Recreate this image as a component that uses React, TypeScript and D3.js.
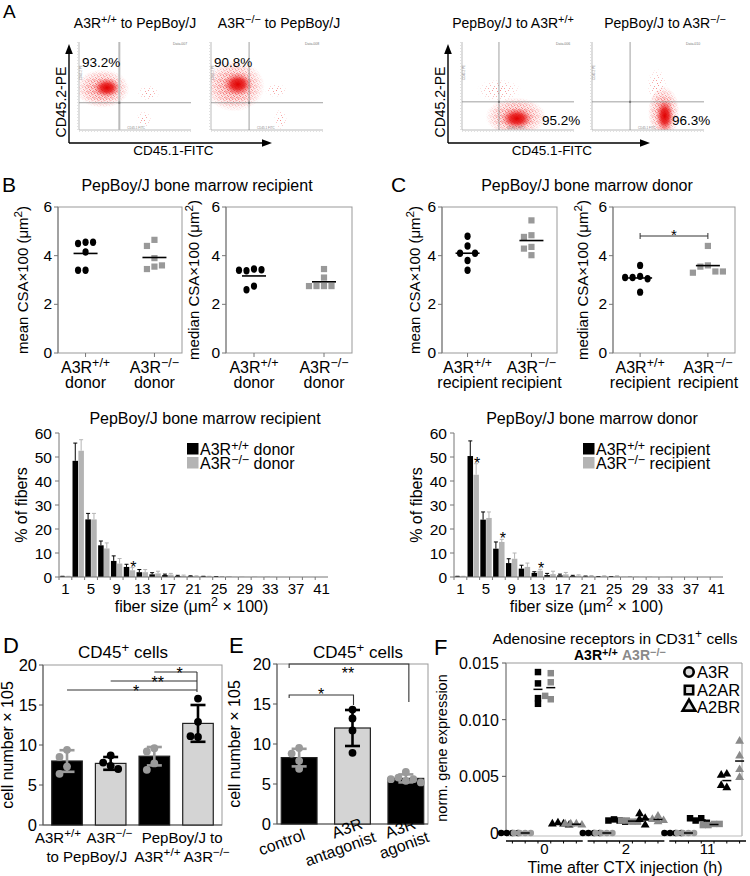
import React from 'react';
import * as d3 from 'd3';

const FF = "'Liberation Sans', Arial, Helvetica, sans-serif";
const GR = '#9a9a9a';

// ================= DATA =================
// Panel A – flow cytometry
const flowTitles = [
  [['A3R', false], ['+/+', true], [' to PepBoy/J', false]],
  [['A3R', false], ['−/−', true], [' to PepBoy/J', false]],
  [['PepBoy/J to A3R', false], ['+/+', true]],
  [['PepBoy/J to A3R', false], ['−/−', true]],
];
const flowPercents = ['93.2%', '90.8%', '95.2%', '96.3%'];
const flowFileTags = ['Data.007', 'Data.008', 'Data.006', 'Data.010'];
const flowGateX = [0.36, 0.34, 0.33, 0.34];
const flowGateY = [0.31, 0.31, 0.32, 0.32];
// population centres in log-fluorescence fractions: [x, y, spreadX, spreadY]
const flowCore = [[0.25, 0.48, 0.12, 0.11], [0.24, 0.52, 0.13, 0.13], [0.49, 0.13, 0.14, 0.12], [0.65, 0.16, 0.08, 0.19]];
const flowHalo = [[0.21, 0.47, 0.24, 0.22], [0.21, 0.5, 0.27, 0.29], [0.48, 0.15, 0.27, 0.22], [0.64, 0.2, 0.14, 0.3]];
const flowSparse = [
  [[0.62, 0.42, 0.1, 0.09], [0.58, 0.12, 0.07, 0.1]],
  [[0.58, 0.45, 0.1, 0.08], [0.62, 0.12, 0.06, 0.12]],
  [[0.33, 0.45, 0.2, 0.13]],
  [[0.58, 0.5, 0.09, 0.2]],
];

// Panels B / C – CSA dot plots
const bMeanWT = [4.55, 4.5, 4.55, 4.15, 3.4, 3.4];
const bMeanKO = [4.65, 4.4, 3.9, 3.55, 3.45, 3.6];
const bMedWT = [3.45, 3.38, 3.42, 3.4, 2.75, 2.6];
const bMedKO = [3.45, 3.1, 2.75, 2.75, 2.75, 2.75];
const cMeanWT = [4.8, 4.4, 4.1, 4.1, 3.8, 3.4];
const cMeanKO = [5.45, 4.84, 4.77, 4.36, 4.29, 4.02];
const cMedWT = [3.6, 3.15, 3.1, 3.05, 3.1, 2.5];
const cMedKO = [4.4, 3.6, 3.55, 3.35, 3.3, 3.35];
const csaTicks = [0, 2, 4, 6];

// Fiber size histograms
const binLabels = [1, 3, 5, 7, 9, 11, 13, 15, 17, 19, 21, 23, 25, 27, 29, 31, 33, 35, 37, 39, 41];
const hbBlk = [0.2, 48.4, 24, 13.2, 6.7, 4.2, 2, 1.1, 0.8, 0.4, 0.3, 0.2, 0.1, 0.1, 0.05, 0.05, 0.05, 0, 0, 0, 0];
const hbBlkErr = [0.1, 7.4, 2.5, 1.8, 2.1, 1.1, 1.1, 0.7, 0.4, 0.3, 0.2, 0.1, 0.1, 0.05, 0, 0, 0, 0, 0, 0, 0];
const hbGry = [0.2, 52.6, 24, 11.9, 5.6, 2.8, 2, 1.5, 1, 0.5, 0.3, 0.2, 0.1, 0.1, 0.05, 0.05, 0.05, 0, 0, 0, 0];
const hbGryErr = [0.1, 4.6, 2.5, 2.3, 2.1, 1.1, 1.1, 0.9, 0.5, 0.3, 0.2, 0.1, 0.1, 0.05, 0, 0, 0, 0, 0, 0, 0];
const hbStars = [{ bin: 5, s: 'g' }];
const hcBlk = [0.2, 50.4, 23.9, 11.8, 5.8, 3.5, 1.7, 0.8, 0.7, 0.4, 0.2, 0.1, 0.1, 0.05, 0.05, 0.05, 0, 0, 0, 0, 0];
const hcBlkErr = [0.1, 6.3, 3.2, 2.8, 1.8, 1.4, 0.5, 0.7, 0.5, 0.3, 0.2, 0.1, 0.1, 0, 0, 0, 0, 0, 0, 0, 0];
const hcGry = [0.2, 42.6, 24.6, 14.6, 7.6, 4.2, 2.6, 1.2, 1.1, 0.6, 0.4, 0.3, 0.3, 0.1, 0.1, 0.05, 0.05, 0, 0, 0, 0];
const hcGryErr = [0.1, 4.6, 2.5, 1.1, 2.4, 1.6, 0.6, 1.2, 0.8, 0.3, 0.2, 0.2, 0.2, 0.1, 0, 0, 0, 0, 0, 0, 0];
const hcStars = [{ bin: 1, s: 'g' }, { bin: 3, s: 'g' }, { bin: 6, s: 'g' }];
const histTicks = [0, 10, 20, 30, 40, 50, 60];

// Panel D
const dGroups = ['wt-to-pep', 'ko-to-pep', 'pep-to-wt', 'pep-to-ko'];
const dMeans = [8.0, 7.7, 8.6, 12.7];
const dSD = [1.35, 0.8, 1.15, 2.3];
const dPoints = [[9.4, 8.5, 7.3, 6.4], [8.7, 7.8, 7.4, 7.0], [9.6, 9.2, 7.7, 6.9], [15.8, 12.9, 11.0, 11.1]];
const dSig = [{ from: 0, label: '*' }, { from: 1, label: '**' }, { from: 2, label: '*' }];
// Panel E
const eGroups = ['control', 'antagonist', 'agonist'];
const eMeans = [8.3, 12.0, 5.7];
const eSD = [1.1, 2.25, 0.5];
const ePoints = [[9.5, 8.8, 7.9, 6.9], [14.3, 13.2, 11.7, 8.9], [6.5, 5.8, 5.6, 5.4, 5.6, 5.2]];
const eLabels = [['control'], ['A3R', 'antagonist'], ['A3R', 'agonist']];
const cellTicks = [0, 5, 10, 15, 20];

// Panel F
const fTimes = ['0', '2', '11'];
const fKeys = ['A3R-wt', 'A3R-ko', 'A2AR-wt', 'A2AR-ko', 'A2BR-wt', 'A2BR-ko'];
const a3rWT = [[0, 0, 0, 0], [0, 0, 0, 0], [0, 0, 0, 0]];
const a3rKO = [[0, 0, 0, 0], [0, 0, 0, 0], [0, 0, 0, 0]];
const a2arWT = [[0.0142, 0.0132, 0.0119, 0.0114], [0.0011, 0.0012, 0.001, 0.0011], [0.0013, 0.0011, 0.0009, 0.0013]];
const a2arKO = [[0.0141, 0.0133, 0.0118, 0.0121], [0.001, 0.0011, 0.001, 0.0011], [0.0008, 0.0007, 0.0008, 0.0007]];
const a2brWT = [[0.0008, 0.0009, 0.0007, 0.0008], [0.0013, 0.0007, 0.0017, 0.0012], [0.0052, 0.0051, 0.004, 0.0042]];
const a2brKO = [[0.0008, 0.0008, 0.0007, 0.0008], [0.0015, 0.001, 0.0012, 0.0011], [0.0081, 0.0068, 0.0049, 0.0056]];
const fTicks = [0, 0.005, 0.01, 0.015];

// ================= HELPERS =================
type Part = [string, boolean];
function Rich({ parts, fs, x, y, anchor = 'middle', fill = '#000', weight, shift = 0.38, ...rest }: any) {
  let up = false;
  const sh = fs * shift;
  return (
    <text x={x} y={y} fontSize={fs} textAnchor={anchor} fill={fill} fontWeight={weight} {...rest}>
      {parts.map(([t, s]: Part, i: number) => {
        let dy: number | undefined;
        if (s && !up) { dy = -sh; up = true; } else if (!s && up) { dy = sh; up = false; }
        return <tspan key={i} dy={dy} fontSize={s ? fs * 0.78 : undefined}>{t}</tspan>;
      })}
    </text>
  );
}

function swarm(vals: number[], y: (v: number) => number, d: number) {
  const placed: { dx: number; y: number }[] = [];
  const order = [0, -1, 1, -2, 2, -3, 3, -4, 4];
  return vals.map(v => {
    const yy = y(v);
    for (const k of order) {
      const dx = k * d;
      if (placed.every(p => Math.hypot(p.dx - dx, p.y - yy) >= d * 0.98)) {
        placed.push({ dx, y: yy });
        return { dx, y: yy };
      }
    }
    placed.push({ dx: 0, y: yy });
    return { dx: 0, y: yy };
  });
}

const PanelLabel = ({ t, x, y, fs = 21 }: any) => <text x={x} y={y} fontSize={fs}>{t}</text>;

// ================= PANEL A =================
function FlowPlot({ i, x0, titleX }: any) {
  const w = 112, top = 42, bot = 130;
  const x = d3.scaleLinear([0, 1], [x0, x0 + w]);
  const y = d3.scaleLinear([0, 1], [bot, top]);
  const gx = x(flowGateX[i]), gy = y(flowGateY[i]);
  const ell = (e: number[], key: string, fill: string, mask?: string, op = 1) => (
    <ellipse key={key} cx={x(e[0])} cy={y(e[1])} rx={e[2] * w} ry={e[3] * (bot - top)} fill={fill} mask={mask} opacity={op} />
  );
  const lowPct = i >= 2;
  return (
    <g>
      <Rich parts={flowTitles[i]} fs={14} x={titleX} y={28} />
      <clipPath id={`fclip${i}`}><rect x={x0} y={top} width={w} height={bot - top} /></clipPath>
      <g clipPath={`url(#fclip${i})`}>
        {flowSparse[i].map((e, k) => ell(e, 's' + k, 'url(#dotsSparse)', 'url(#fadeMask)', 0.8))}
        {ell(flowHalo[i], 'h', 'url(#dotsDense)', 'url(#fadeMask)')}
        {ell(flowHalo[i], 'h2', 'url(#haloGrad)')}
        {ell(flowCore[i], 'c', 'url(#coreGrad)')}
      </g>
      <line x1={x0} y1={top} x2={x0} y2={bot} stroke="#aaa" strokeWidth={0.8} />
      <line x1={x0} y1={bot} x2={x0 + w} y2={bot} stroke="#aaa" strokeWidth={0.8} />
      <line x1={x0 - 1.5} y1={top} x2={x0 - 1.5} y2={bot} stroke="#ccc" strokeWidth={1} strokeDasharray="0.6 2.4" />
      <line x1={x0} y1={bot + 1.5} x2={x0 + w} y2={bot + 1.5} stroke="#ccc" strokeWidth={1} strokeDasharray="0.6 2.4" />
      <line x1={gx} y1={top} x2={gx} y2={bot} stroke={i === 0 ? '#bbb' : '#888'} strokeWidth={i === 0 ? 2 : 0.8} />
      <line x1={x0} y1={gy} x2={x0 + w} y2={gy} stroke="#888" strokeWidth={0.8} />
      <rect x={gx - 1} y={gy - 1} width={2} height={2} fill="#777" />
      <text x={x0 + w - 18} y={top + 3} fontSize={3.5} fill="#777">{flowFileTags[i]}</text>
      <text x={gx + 8} y={bot - 1} fontSize={3} fill="#888">CD45.1 FITC</text>
      <text transform={`translate(${x0 + 3},${(top + gy) / 2 + 8}) rotate(-90)`} fontSize={3} fill="#888">CD45.2 PE</text>
      <text x={lowPct ? x0 + 80 : x0 + 3} y={lowPct ? 125 : 67} fontSize={13.5}>{flowPercents[i]}</text>
    </g>
  );
}

function AxisArrows({ x0, x1 }: any) {
  return (
    <g>
      <line x1={x0} y1={143} x2={x0} y2={53} stroke="#000" strokeWidth={1.4} />
      <path d={`M${x0},44 L${x0 - 3.8},54 L${x0 + 3.8},54Z`} fill="#000" />
      <line x1={x0} y1={143} x2={x1 - 9} y2={143} stroke="#000" strokeWidth={1.4} />
      <path d={`M${x1},143 L${x1 - 10},139.2 L${x1 - 10},146.8Z`} fill="#000" />
      <text transform={`translate(${x0 - 3},102) rotate(-90)`} fontSize={14} textAnchor="middle">CD45.2-PE</text>
      <text x={(x0 + x1) / 2 + 3} y={155} fontSize={13.5} textAnchor="middle">CD45.1-FITC</text>
    </g>
  );
}

function PanelA() {
  const lefts = [79, 211, 462, 592];
  const titleXs = [135, 279, 513, 665];
  return (
    <g>
      <PanelLabel t="A" x={3} y={18} fs={19} />
      {lefts.map((l, i) => <FlowPlot key={i} i={i} x0={l} titleX={titleXs[i]} />)}
      <AxisArrows x0={69} x1={272} />
      <AxisArrows x0={448} x1={650} />
    </g>
  );
}

// ================= PANELS B/C dot plots =================
function DotPlot({ x0, x1, wt, ko, ylab, line2, ylabX, sig }: any) {
  const top = 207, bot = 353;
  const y = d3.scaleLinear([0, 6], [bot, top]);
  const x = d3.scalePoint(['wt', 'ko'], [x0, x1]).padding(0.4);
  const pw = swarm(wt, y, 7.5);
  const pk = swarm(ko, y, 7.5);
  const mw = d3.mean(wt) as number, mk = d3.mean(ko) as number;
  const cx = x('wt') as number, kx = x('ko') as number;
  return (
    <g>
      <rect x={x0} y={top} width={x1 - x0} height={bot - top} fill="none" stroke="#999" strokeWidth={1} />
      <line x1={x0} y1={top} x2={x0} y2={bot} stroke="#777" strokeWidth={1} />
      {csaTicks.map(t => (
        <g key={t}>
          <line x1={x0 - 4} x2={x0} y1={y(t)} y2={y(t)} stroke="#777" />
          <text x={x0 - 6} y={y(t) + 5} fontSize={15.5} textAnchor="end">{t}</text>
        </g>
      ))}
      {[cx, kx].map((p, i) => <line key={i} x1={p} x2={p} y1={bot} y2={bot + 4} stroke="#777" />)}
      <Rich parts={[['A3R', false], ['+/+', true]]} fs={16} x={cx} y={373} />
      <Rich parts={[['A3R', false], ['−/−', true]]} fs={16} x={kx} y={373} />
      <text x={cx} y={388} fontSize={16} textAnchor="middle">{line2}</text>
      <text x={kx} y={388} fontSize={16} textAnchor="middle">{line2}</text>
      <Rich parts={ylab} fs={15} x={0} y={0} transform={`translate(${ylabX + 5},${(top + bot) / 2}) rotate(-90)`} />
      {pw.map((p, i) => <ellipse key={'w' + i} cx={cx + p.dx} cy={p.y} rx={3.1} ry={3.7} fill="#000" />)}
      {pk.map((p, i) => <rect key={'k' + i} x={kx + p.dx - 3.1} y={p.y - 3.1} width={6.2} height={6.2} fill="#999" />)}
      <line x1={cx - 12} x2={cx + 12} y1={y(mw)} y2={y(mw)} stroke="#000" strokeWidth={1.6} />
      <line x1={kx - 12} x2={kx + 12} y1={y(mk)} y2={y(mk)} stroke="#000" strokeWidth={1.6} />
      {sig && (
        <g stroke="#333" strokeWidth={1}>
          <line x1={cx} x2={kx} y1={236} y2={236} />
          <line x1={cx} x2={cx} y1={233} y2={239} />
          <line x1={kx} x2={kx} y1={233} y2={239} />
          <text x={(cx + kx) / 2} y={240} fontSize={15} textAnchor="middle" stroke="none">*</text>
        </g>
      )}
    </g>
  );
}

const meanLab: Part[] = [['mean CSA×100 (μm', false], ['2', true], [')', false]];
const medLab: Part[] = [['median CSA×100 (μm', false], ['2', true], [')', false]];

function PanelsBC() {
  return (
    <g>
      <PanelLabel t="B" x={2} y={192} />
      <PanelLabel t="C" x={391} y={192} />
      <text x={197} y={191} fontSize={16} textAnchor="middle">PepBoy/J bone marrow recipient</text>
      <text x={587} y={191} fontSize={16} textAnchor="middle">PepBoy/J bone marrow donor</text>
      <DotPlot x0={58} x1={182} wt={bMeanWT} ko={bMeanKO} ylab={meanLab} line2="donor" ylabX={23} />
      <DotPlot x0={226} x1={352} wt={bMedWT} ko={bMedKO} ylab={medLab} line2="donor" ylabX={194} />
      <DotPlot x0={442} x1={557} wt={cMeanWT} ko={cMeanKO} ylab={meanLab} line2="recipient" ylabX={415} />
      <DotPlot x0={613} x1={735} wt={cMedWT} ko={cMedKO} ylab={medLab} line2="recipient" ylabX={583} sig />
    </g>
  );
}

// ================= Histograms =================
function Hist({ x0, x1, title, titleX, blk, blkErr, gry, gryErr, stars, legWord, legX, ylabX }: any) {
  const top = 433, bot = 577;
  const x = d3.scaleBand(binLabels.map(String), [x0, x1]);
  const sub = d3.scaleBand(['b', 'g'], [0, x.bandwidth()]).paddingInner(0.06).paddingOuter(0.12);
  const y = d3.scaleLinear([0, 60], [bot, top]);
  const series = [
    { k: 'b', v: blk, e: blkErr, fill: '#000', err: '#000' },
    { k: 'g', v: gry, e: gryErr, fill: '#b4b4b4', err: '#b4b4b4' },
  ];
  return (
    <g>
      <text x={titleX} y={424} fontSize={16} textAnchor="middle">{title}</text>
      {series.map(s => binLabels.map((b, i) => {
        const bx = (x(String(b)) as number) + (sub(s.k) as number);
        const bw = sub.bandwidth();
        const yt = y(s.v[i]);
        const ye = y(s.v[i] + s.e[i]);
        return (
          <g key={s.k + b}>
            <rect x={bx} y={yt} width={bw} height={bot - yt} fill={s.fill} />
            {s.e[i] > 0.05 && (
              <g stroke={s.err} strokeWidth={1}>
                <line x1={bx + bw / 2} x2={bx + bw / 2} y1={yt} y2={ye} />
                <line x1={bx + bw / 2 - 2} x2={bx + bw / 2 + 2} y1={ye} y2={ye} />
              </g>
            )}
          </g>
        );
      }))}
      {stars.map((st: any, i: number) => {
        const s = series.find(q => q.k === st.s)!;
        const b = binLabels[st.bin];
        const bx = (x(String(b)) as number) + (sub(st.s) as number) + sub.bandwidth() / 2;
        return <text key={i} x={bx + 1} y={y(s.v[st.bin] + s.e[st.bin]) + 5} fontSize={16} textAnchor="middle">*</text>;
      })}
      <line x1={x0} x2={x0} y1={top} y2={bot} stroke="#777" />
      <line x1={x0} x2={x1} y1={bot} y2={bot} stroke="#777" />
      {histTicks.map(t => (
        <g key={t}>
          <line x1={x0 - 4} x2={x0} y1={y(t)} y2={y(t)} stroke="#777" />
          <text x={x0 - 7} y={y(t) + 5.5} fontSize={15.5} textAnchor="end">{t}</text>
        </g>
      ))}
      {binLabels.map(b => (
        <line key={b} x1={x(String(b)) as number} x2={x(String(b)) as number} y1={bot} y2={bot + 3} stroke="#777" />
      ))}
      {binLabels.filter((b, i) => i % 2 === 0).map(b => (
        <text key={b} x={(x(String(b)) as number) + x.bandwidth() / 2} y={594} fontSize={15} textAnchor="middle">{b}</text>
      ))}
      <Rich parts={[['fiber size (μm', false], ['2', true], [' × 100)', false]]} fs={16} x={(x0 + x1) / 2 - 2} y={612} />
      <text transform={`translate(${ylabX + 5},505) rotate(-90)`} fontSize={16} textAnchor="middle">% of fibers</text>
      <rect x={legX} y={443} width={11.5} height={11.5} fill="#000" />
      <rect x={legX} y={457} width={11.5} height={11.5} fill="#b4b4b4" />
      <Rich parts={[['A3R', false], ['+/+', true], [' ' + legWord, false]]} fs={16} shift={0.32} x={legX + 13} y={455} anchor="start" />
      <Rich parts={[['A3R', false], ['−/−', true], [' ' + legWord, false]]} fs={16} shift={0.32} x={legX + 13} y={469} anchor="start" />
    </g>
  );
}

// ================= PANEL D / E =================
function BarFrame({ x0, x1, top, bot, ylabX }: any) {
  const y = d3.scaleLinear([0, 20], [bot, top]);
  return (
    <g>
      <rect x={x0} y={top} width={x1 - x0} height={bot - top} fill="none" stroke="#999" />
      <line x1={x0} x2={x0} y1={top} y2={bot} stroke="#555" />
      <line x1={x0} x2={x1} y1={bot} y2={bot} stroke="#555" />
      {cellTicks.map(t => (
        <g key={t}>
          <line x1={x0 - 4} x2={x0} y1={y(t)} y2={y(t)} stroke="#555" />
          <text x={x0 - 6} y={y(t) + 6} fontSize={16.5} textAnchor="end">{t}</text>
        </g>
      ))}
      <text transform={`translate(${ylabX + 5},${(top + bot) / 2}) rotate(-90)`} fontSize={16} textAnchor="middle">cell number × 105</text>
    </g>
  );
}

function Bars({ x, y, means, sds, pts, fills, pcols }: any) {
  return (
    <g>
      {means.map((m: number, i: number) => {
        const bx = x.domain()[i];
        const x0 = x(bx) as number, bw = x.bandwidth(), c = x0 + bw / 2;
        const sw = swarm(pts[i], y, 7.5);
        return (
          <g key={i}>
            <rect x={x0} y={y(m)} width={bw} height={y(0) - y(m)} fill={fills[i]} stroke="#222" strokeWidth={1.2} />
            {sw.map((p, k) => <circle key={k} cx={c + p.dx} cy={p.y} r={3.9} fill={pcols[i]} />)}
            <g stroke={pcols[i]} strokeWidth={2.6}>
              <line x1={c} x2={c} y1={y(m - sds[i])} y2={y(m + sds[i])} />
              <line x1={c - 7.5} x2={c + 7.5} y1={y(m - sds[i])} y2={y(m - sds[i])} />
              <line x1={c - 7.5} x2={c + 7.5} y1={y(m + sds[i])} y2={y(m + sds[i])} />
            </g>
          </g>
        );
      })}
    </g>
  );
}

function PanelD() {
  const x0 = 43, x1 = 222, top = 665, bot = 825;
  const x = d3.scaleBand(dGroups, [x0, x1]).paddingInner(0.3).paddingOuter(0.2);
  const y = d3.scaleLinear([0, 20], [bot, top]);
  const cs = dGroups.map(g => (x(g) as number) + x.bandwidth() / 2);
  const sigYs = [690, 681, 672];
  const rightX = cs[3] - 1;
  return (
    <g>
      <PanelLabel t="D" x={3} y={653} fs={22} />
      <Rich parts={[['CD45', false], ['+', true], [' cells', false]]} fs={17} x={123} y={658} />
      <BarFrame x0={x0} x1={x1} top={top} bot={bot} ylabX={8} />
      <Bars x={x} y={y} means={dMeans} sds={dSD} pts={dPoints} fills={['#000', '#d4d4d4', '#000', '#d4d4d4']} pcols={[GR, '#000', GR, '#000']} />
      <g stroke="#333" strokeWidth={1.1}>
        {dSig.map((s, i) => <line key={i} x1={cs[s.from]} x2={rightX} y1={sigYs[i]} y2={sigYs[i]} />)}
        <line x1={rightX} x2={rightX} y1={672} y2={692} />
      </g>
      {dSig.map((s, i) => (
        <text key={i} x={(cs[s.from] + rightX) / 2 + 4} y={sigYs[i] + 7} fontSize={16} textAnchor="middle">{s.label}</text>
      ))}
      <Rich parts={[['A3R', false], ['+/+', true]]} fs={15} x={cs[0] - 9} y={843} />
      <Rich parts={[['A3R', false], ['−/−', true]]} fs={15} x={cs[1] - 1} y={843} />
      <text x={(cs[0] + cs[1]) / 2 - 2} y={862} fontSize={15} textAnchor="middle">to PepBoy/J</text>
      <text x={(cs[2] + cs[3]) / 2 + 6} y={843} fontSize={15} textAnchor="middle">PepBoy/J to</text>
      <Rich parts={[['A3R', false], ['+/+', true], [' A3R', false], ['−/−', true]]} fs={15} x={(cs[2] + cs[3]) / 2 + 6} y={862} />
    </g>
  );
}

function PanelE() {
  const x0 = 277, x1 = 428, top = 664, bot = 824;
  const x = d3.scaleBand(eGroups, [x0, x1]).paddingInner(0.33).paddingOuter(0.08);
  const y = d3.scaleLinear([0, 20], [bot, top]);
  const cs = eGroups.map(g => (x(g) as number) + x.bandwidth() / 2);
  return (
    <g>
      <PanelLabel t="E" x={229} y={653} fs={22} />
      <Rich parts={[['CD45', false], ['+', true], [' cells', false]]} fs={17} x={358} y={658} />
      <BarFrame x0={x0} x1={x1} top={top} bot={bot} ylabX={235} />
      <Bars x={x} y={y} means={eMeans} sds={eSD} pts={ePoints} fills={['#000', '#d4d4d4', '#000']} pcols={[GR, '#000', GR]} />
      <g stroke="#333" strokeWidth={1.1} fill="none">
        <path d={`M${cs[0] - 10},668 V664 H${cs[2] + 3} V702`} />
        <path d={`M${cs[0] - 10},698 V695 H${cs[1] + 1} V705`} />
      </g>
      <text x={348} y={679} fontSize={16} textAnchor="middle">**</text>
      <text x={321} y={700} fontSize={16} textAnchor="middle">*</text>
      {eLabels.map((ls, i) => {
        const one = ls.length === 1;
        return (
          <g key={i} transform={`translate(${cs[i] + (one ? 7 : 11)},${one ? 839 : 828}) rotate(-20)`}>
            <text fontSize={16} textAnchor="end">{ls[0]}</text>
            {ls[1] && <text x={8} y={17} fontSize={16} textAnchor="end">{ls[1]}</text>}
          </g>
        );
      })}
    </g>
  );
}

// ================= PANEL F =================
function PanelF() {
  const outer = d3.scaleBand(fTimes, [506, 746]).paddingInner(0.06);
  const inner = d3.scaleBand(fKeys, [0, outer.bandwidth()]);
  const y = d3.scaleLinear([0, 0.015], [833, 663]);
  const left = 506, right = 742, top = 663, bot = 836;
  const sets: Record<string, number[][]> = {
    'A3R-wt': a3rWT, 'A3R-ko': a3rKO, 'A2AR-wt': a2arWT, 'A2AR-ko': a2arKO, 'A2BR-wt': a2brWT, 'A2BR-ko': a2brKO,
  };
  const shapeOf = (k: string) => k.startsWith('A3R') ? d3.symbolCircle : k.startsWith('A2AR') ? d3.symbolSquare : d3.symbolTriangle;
  const sizeOf = (k: string) => k.startsWith('A3R') ? 34 : k.startsWith('A2AR') ? 42 : 34;
  const legend = [
    { t: 'A3R', s: d3.symbolCircle, y: 672 },
    { t: 'A2AR', s: d3.symbolSquare, y: 690 },
    { t: 'A2BR', s: d3.symbolTriangle, y: 707 },
  ];
  return (
    <g>
      <PanelLabel t="F" x={434} y={655} fs={22} />
      <Rich parts={[['Adenosine receptors in CD31', false], ['+', true], [' cells', false]]} fs={15.5} x={615} y={644} />
      <Rich parts={[['A3R', false], ['+/+', true]]} fs={14} shift={0.3} x={574} y={660} anchor="start" weight="bold" />
      <Rich parts={[['A3R', false], ['−/−', true]]} fs={14} shift={0.3} x={622} y={660} anchor="start" weight="bold" fill="#8a8a8a" />
      <line x1={left} x2={left} y1={top} y2={bot} stroke="#555" />
      <line x1={left} x2={right} y1={top} y2={top} stroke="#999" />
      <line x1={right} x2={right} y1={top} y2={bot} stroke="#999" />
      <line x1={left} x2={right} y1={bot} y2={bot} stroke="#bbb" />
      {fTicks.map(t => (
        <g key={t}>
          <line x1={left - 4} x2={left} y1={y(t)} y2={y(t)} stroke="#555" />
          <text x={left - 7} y={y(t) + 6} fontSize={16} textAnchor="end">{t === 0 ? '0' : t.toFixed(3)}</text>
        </g>
      ))}
      <text transform={`translate(447,748) rotate(-90)`} fontSize={14.5} textAnchor="middle">norm. gene expression</text>
      {fTimes.map((tm, ti) => {
        const gx = outer(tm) as number;
        return (
          <g key={tm}>
            {fKeys.map(k => {
              const cx = gx + (inner(k) as number) + inner.bandwidth() / 2;
              const vals = sets[k][ti];
              const sw = swarm(vals, y, 5.6);
              const col = k.endsWith('wt') ? '#000' : (k.startsWith('A3R') ? '#9c9c9c' : '#8a8a8a');
              const sym = d3.symbol(shapeOf(k), sizeOf(k))() as string;
              const m = d3.mean(vals) as number;
              return (
                <g key={k}>
                  {sw.map((p, j) => <path key={j} d={sym} transform={`translate(${cx + p.dx},${p.y})`} fill={col} />)}
                  <line x1={cx - 4.5} x2={cx + 4.5} y1={y(m)} y2={y(m)} stroke="#000" strokeWidth={1.5} />
                </g>
              );
            })}
            <line x1={gx} x2={gx + outer.bandwidth()} y1={841} y2={841} stroke="#000" strokeWidth={1.6} />
            {fKeys.map(k => {
              const cx = gx + (inner(k) as number) + inner.bandwidth() / 2;
              return <line key={k} x1={cx} x2={cx} y1={841} y2={843.5} stroke="#000" />;
            })}
            <text x={gx + outer.bandwidth() / 2} y={854} fontSize={15} textAnchor="middle">{tm}</text>
          </g>
        );
      })}
      <text x={625} y={873} fontSize={16} textAnchor="middle">Time after CTX injection (h)</text>
      {legend.map(l => (
        <g key={l.t}>
          <path d={d3.symbol(l.s, 70)() as string} transform={`translate(689,${l.y})`} fill="#ddd" stroke="#000" strokeWidth={2.6} />
          <text x={697} y={l.y + 6} fontSize={16.5}>{l.t}</text>
        </g>
      ))}
    </g>
  );
}

// ================= DEFS =================
const denseDots = [[0, 0], [2, 1], [4, 3], [1, 3], [3, 0.5], [0.5, 2], [3.5, 2], [2.5, 4], [4.5, 1], [1.5, 4.5], [5, 5], [5.5, 2.5]];
const sparseDots = [[0, 0], [4, 2], [2, 5], [6, 6], [5, 0], [1, 3]];
function Defs() {
  return (
    <defs>
      <radialGradient id="coreGrad">
        <stop offset="0" stopColor="#e00000" stopOpacity={1} />
        <stop offset="0.45" stopColor="#e81a1a" stopOpacity={0.85} />
        <stop offset="0.8" stopColor="#f04848" stopOpacity={0.3} />
        <stop offset="1" stopColor="#f46060" stopOpacity={0} />
      </radialGradient>
      <radialGradient id="haloGrad">
        <stop offset="0" stopColor="#f03a3a" stopOpacity={0.35} />
        <stop offset="0.7" stopColor="#f47070" stopOpacity={0.12} />
        <stop offset="1" stopColor="#f89090" stopOpacity={0} />
      </radialGradient>
      <radialGradient id="fadeGrad">
        <stop offset="0" stopColor="#fff" />
        <stop offset="0.55" stopColor="#999" />
        <stop offset="1" stopColor="#000" />
      </radialGradient>
      <mask id="fadeMask" maskContentUnits="objectBoundingBox">
        <rect width="1" height="1" fill="url(#fadeGrad)" />
      </mask>
      <pattern id="dotsDense" width="6" height="6" patternUnits="userSpaceOnUse">
        {denseDots.map((d, i) => <rect key={i} x={d[0]} y={d[1]} width={0.9} height={0.9} fill="#f02020" />)}
      </pattern>
      <pattern id="dotsSparse" width="8" height="8" patternUnits="userSpaceOnUse">
        {sparseDots.map((d, i) => <rect key={i} x={d[0]} y={d[1]} width={0.9} height={0.9} fill="#f04040" />)}
      </pattern>
    </defs>
  );
}

export default function App() {
  return (
    <svg width={750} height={876} viewBox="0 0 750 876" fontFamily={FF}
      style={{ position: 'absolute', left: 0, top: 0, background: '#fff' }}>
      <rect width={750} height={876} fill="#fff" />
      <Defs />
      <PanelA />
      <PanelsBC />
      <Hist x0={59} x1={328} title="PepBoy/J bone marrow recipient" titleX={205} blk={hbBlk} blkErr={hbBlkErr}
        gry={hbGry} gryErr={hbGryErr} stars={hbStars} legWord="donor" legX={187} ylabX={22} />
      <Hist x0={454} x1={723} title="PepBoy/J bone marrow donor" titleX={592} blk={hcBlk} blkErr={hcBlkErr}
        gry={hcGry} gryErr={hcGryErr} stars={hcStars} legWord="recipient" legX={583} ylabX={417} />
      <PanelD />
      <PanelE />
      <PanelF />
    </svg>
  );
}
